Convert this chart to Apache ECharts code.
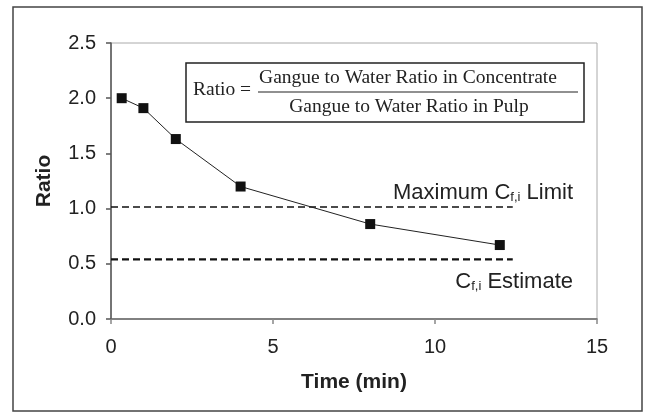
<!DOCTYPE html>
<html>
<head>
<meta charset="utf-8">
<script src="https://cdn.jsdelivr.net/npm/echarts@6/dist/echarts.min.js"></script>
<style>
  html, body { margin: 0; padding: 0; background: #fff; }
  #chart { width: 646px; height: 414px; }
</style>
</head>
<body>
<div id="chart"></div>
<script>
// 数据
const timeMin = [0.33, 1, 2, 4, 8, 12];
const ratioValues = [2.0, 1.91, 1.63, 1.2, 0.86, 0.67];
const limitY = 1.015;     // Maximum Cf,i Limit
const estimateY = 0.54;   // Cf,i Estimate
const refLineX = [0, 12.4];
const xTicks = [0, 5, 10, 15];
const yTicks = [0, 0.5, 1.0, 1.5, 2.0, 2.5];

const sans = "'Liberation Sans', Arial, sans-serif";
const serif = "'Liberation Serif', 'Times New Roman', serif";

const chart = echarts.init(document.getElementById('chart'));

const subStyle = { fontFamily: sans, fontSize: 13, fill: '#222', verticalAlign: 'bottom', padding: [7, 0, 0, 0] };

const option = {
  animation: false,
  backgroundColor: '#fff',
  grid: {
    left: 111, right: 49, top: 43, bottom: 95,
    show: true, borderColor: '#aaa', borderWidth: 1
  },
  xAxis: {
    type: 'value',
    min: xTicks[0], max: xTicks[xTicks.length - 1], interval: 5,
    name: 'Time (min)', nameLocation: 'middle', nameGap: 53,
    nameTextStyle: { fontFamily: sans, fontSize: 21, fontWeight: 'bold', color: '#222' },
    axisLine: { lineStyle: { color: '#666', width: 1.5 } },
    axisTick: { length: 5, lineStyle: { color: '#888', width: 1.5 } },
    axisLabel: { fontFamily: sans, fontSize: 20, color: '#222', margin: 18 },
    splitLine: { show: false }
  },
  yAxis: {
    type: 'value',
    min: yTicks[0], max: yTicks[yTicks.length - 1], interval: 0.5,
    name: 'Ratio', nameLocation: 'middle', nameGap: 56,
    nameTextStyle: { fontFamily: sans, fontSize: 21, fontWeight: 'bold', color: '#222' },
    axisLine: { show: true, lineStyle: { color: '#555', width: 1.5 } },
    axisTick: { show: true, length: 5, lineStyle: { color: '#555', width: 1.5 } },
    axisLabel: { fontFamily: sans, fontSize: 20, color: '#222', margin: 15,
      formatter: v => v.toFixed(1) },
    splitLine: { show: false }
  },
  series: [
    {
      name: 'limit', type: 'line', symbol: 'none', silent: true,
      data: refLineX.map(x => [x, limitY]),
      lineStyle: { color: '#111', width: 1.5, type: [7, 4] },
      z: 1
    },
    {
      name: 'estimate', type: 'line', symbol: 'none', silent: true,
      data: refLineX.map(x => [x, estimateY]),
      lineStyle: { color: '#111', width: 2.4, type: [7, 4] },
      z: 1
    },
    {
      name: 'ratio', type: 'line', symbol: 'rect', symbolSize: 10,
      data: timeMin.map((t, i) => [t, ratioValues[i]]),
      itemStyle: { color: '#111' },
      lineStyle: { color: '#222', width: 1 },
      z: 3
    }
  ],
  graphic: [
    // 外框
    { type: 'rect', shape: { x: 13, y: 7, width: 629, height: 404 },
      style: { fill: 'none', stroke: '#444', lineWidth: 1.5 }, silent: true },
    // 公式框
    { type: 'rect', shape: { x: 186, y: 63, width: 398, height: 59 },
      style: { fill: '#fff', stroke: '#222', lineWidth: 1.5 }, z: 10 },
    { type: 'text', x: 193, y: 90, z: 11,
      style: { text: 'Ratio =', font: '19.5px ' + serif, fill: '#222', verticalAlign: 'middle' } },
    { type: 'text', x: 408, y: 78, z: 11,
      style: { text: 'Gangue to Water Ratio in Concentrate', font: '19.5px ' + serif, fill: '#222',
        align: 'center', verticalAlign: 'middle' } },
    { type: 'line', shape: { x1: 258, y1: 92, x2: 578, y2: 92 }, z: 11,
      style: { stroke: '#222', lineWidth: 1.2 } },
    { type: 'text', x: 409, y: 107, z: 11,
      style: { text: 'Gangue to Water Ratio in Pulp', font: '19.5px ' + serif, fill: '#222',
        align: 'center', verticalAlign: 'middle' } },
    // 参考线标注
    { type: 'text', x: 573, y: 193, z: 11,
      style: {
        text: 'Maximum C{sub|f,i} Limit', align: 'right', verticalAlign: 'middle',
        fontFamily: sans, fontSize: 22, fill: '#222', rich: { sub: subStyle }
      } },
    { type: 'text', x: 573, y: 282, z: 11,
      style: {
        text: 'C{sub|f,i} Estimate', align: 'right', verticalAlign: 'middle',
        fontFamily: sans, fontSize: 22, fill: '#222', rich: { sub: subStyle }
      } }
  ]
};

chart.setOption(option);
</script>
</body>
</html>
